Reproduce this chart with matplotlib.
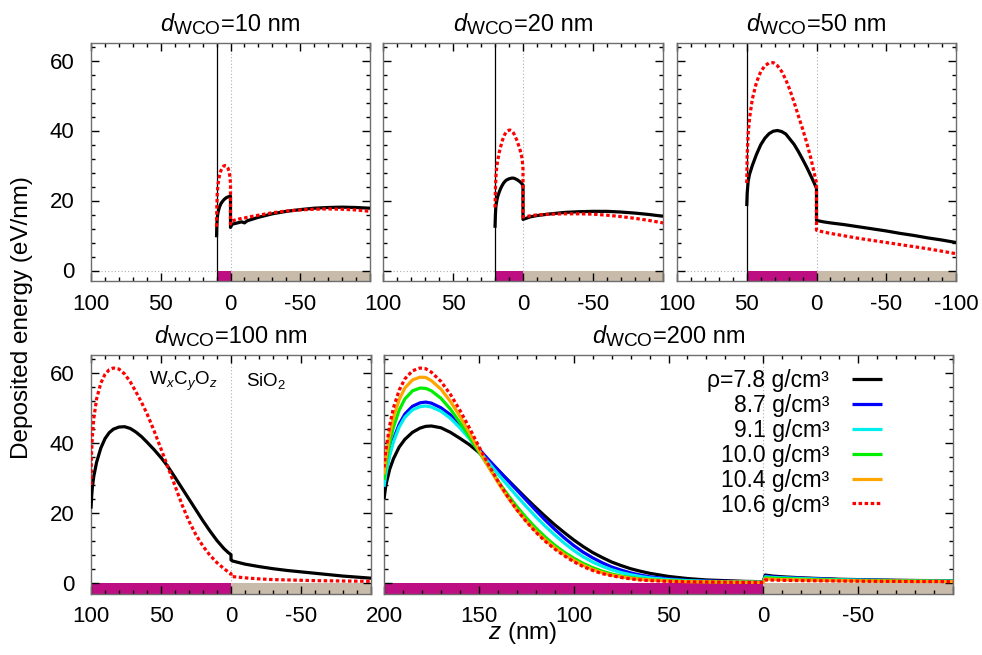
import matplotlib
matplotlib.use('Agg')
import matplotlib.pyplot as plt
from matplotlib.ticker import MultipleLocator
from matplotlib.offsetbox import TextArea, HPacker, AnchoredOffsetbox

plt.rcParams['font.family'] = ['Liberation Sans', 'DejaVu Sans']
plt.rcParams['mathtext.fontset'] = 'custom'
plt.rcParams['mathtext.rm'] = 'Liberation Sans'
plt.rcParams['mathtext.it'] = 'Liberation Sans:italic'
plt.rcParams['mathtext.bf'] = 'Liberation Sans:bold'

# ---- deposited energy profiles, z in nm, energy in eV/nm ----
densities = ['7.8', '8.7', '9.1', '10.0', '10.4', '10.6']
colors = ['#000000', '#0000ff', '#00eeee', '#00ee00', '#ffa500', '#ff0000']

# d_WCO = 10 nm
z10_wco = [10, 9.8, 9.5, 9, 8, 7, 6, 5, 4, 3, 2, 1, 0.5, 0]
e10_wco_78 = [9.5, 13, 15, 16.5, 18, 19, 19.6, 20.1, 20.5, 20.8, 21, 21.1, 21.2, 21.2]
e10_wco_106 = [12.5, 18, 22, 24.5, 27, 28.4, 29.3, 29.8, 30, 29.9, 29.4, 28.3, 27, 25]
z10_sio2 = [0, -1, -5, -8, -10, -12, -20, -30, -40, -50, -60, -70, -80, -90, -100]
e10_sio2_78 = [12.3, 13.2, 13.6, 13.9, 13.6, 14.2, 15.2, 16.2, 16.9, 17.4, 17.8, 18.0, 18.1, 18.0, 17.8]
e10_sio2_106 = [13.3, 14.2, 14.6, 14.9, 15.0, 15.2, 15.8, 16.5, 17.0, 17.3, 17.5, 17.6, 17.5, 17.3, 16.9]

# d_WCO = 20 nm
z20_wco = [20, 19.7, 19.5, 19.3, 19, 18.5, 18, 17, 16, 15, 14, 13, 12, 11, 10, 9, 8, 7, 6, 5, 4, 3, 2, 1.5, 1, 0.5, 0]
e20_wco_78 = [12.2, 16, 17.5, 18.5, 19.3, 20.4, 21.2, 22.4, 23.4, 24.2, 24.9, 25.4, 25.8, 26.0, 26.2, 26.3, 26.4,
              26.4, 26.3, 26.1, 25.9, 25.6, 25.3, 25.1, 24.9, 24.6, 24.4]
e20_wco_106 = [18, 23, 25, 27, 28.5, 30.3, 31.5, 33.7, 35.3, 36.8, 38.0, 38.9, 39.5, 39.9, 40.1, 40.1, 39.9,
               39.4, 38.7, 37.8, 36.8, 35.6, 34.3, 33.5, 32.7, 31.5, 29]
z20_sio2 = [0, -5, -10, -20, -30, -40, -50, -60, -70, -80, -90, -100]
e20_sio2_78 = [14.6, 15.3, 15.7, 16.2, 16.6, 16.8, 16.9, 16.9, 16.7, 16.4, 16.0, 15.5]
e20_sio2_106 = [15.3, 15.6, 15.9, 16.1, 16.2, 16.2, 16.1, 15.8, 15.4, 14.9, 14.3, 13.6]

# d_WCO = 50 nm
z50_wco = [50, 49.7, 49, 48, 46, 43, 40, 37, 34, 31, 28, 25, 22, 19, 16, 13, 10, 7, 4, 2, 0]
e50_wco_78 = [18.4, 22, 25.5, 27.5, 30, 33.2, 35.9, 37.8, 39.1, 39.8, 40, 39.7, 39, 37.5, 36, 34, 31.8,
              29.5, 27, 25.3, 23.5]
e50_wco_106 = [25, 33, 39, 43.5, 49, 53.8, 56.8, 58.5, 59.3, 59.4, 58.5, 56.9, 54.5, 51.5, 48, 44.2, 40.5,
               36.5, 32, 28.5, 25]
z50_sio2 = [0, -5, -10, -20, -30, -40, -50, -60, -70, -80, -90, -100]
e50_sio2_78 = [14.3, 13.9, 13.6, 13.1, 12.5, 11.9, 11.3, 10.6, 10.0, 9.3, 8.7, 8.0]
e50_sio2_106 = [11.5, 11.0, 10.6, 9.9, 9.2, 8.6, 8.0, 7.4, 6.8, 6.2, 5.5, 4.8]

# d_WCO = 100 nm
z100_wco = [100, 99.7, 99.5, 99, 98, 96, 93, 90, 87, 84, 80, 76, 72, 68, 64, 60, 55, 50, 48, 45, 40,
            35, 30, 25, 20, 15, 10, 5, 2, 0]
e100_wco_78 = [21.3, 23.5, 25, 27.5, 30.5, 34.5, 38.5, 41.2, 42.9, 43.9, 44.5, 44.6, 44.1, 43.1, 41.8,
               40.2, 38.1, 35.8, 34.8, 33.2, 30.2, 27.1, 24.0, 20.9, 17.8, 14.9, 12.2, 9.9, 8.8, 8.2]
e100_wco_106 = [28, 35, 38, 42, 47, 52.5, 57, 59.5, 60.8, 61.3, 61.0, 59.6, 57.4, 54.6, 51.6, 48.3, 43.5,
                38.3, 36.2, 33.0, 27.8, 22.4, 17.7, 13.8, 10.6, 8.0, 5.9, 4.2, 3.3, 2.8]
z100_sio2 = [0, -1, -5, -10, -20, -30, -40, -50, -60, -70, -80, -90, -100]
e100_sio2_78 = [6.7, 6.4, 6.0, 5.5, 4.8, 4.2, 3.7, 3.3, 2.9, 2.5, 2.1, 1.8, 1.5]
e100_sio2_106 = [2.0, 1.95, 1.8, 1.6, 1.3, 1.1, 1.0, 0.9, 0.8, 0.75, 0.7, 0.65, 0.6]

# d_WCO = 200 nm, all six densities
z200_wco = [200, 199, 197, 195, 192, 189, 185, 181, 178, 175, 170, 165, 160, 155, 150, 145, 140, 135,
            130, 125, 120, 115, 110, 105, 100, 95, 90, 85, 80, 75, 70, 65, 60, 50, 40, 30, 20, 10, 0]
e200_wco_78 = [24, 28, 32.5, 35.5, 38.8, 41, 43, 44.2, 44.7, 44.8, 44.3, 43, 41.3, 39.5, 37.3, 34.9,
               32.3, 29.6, 26.9, 24.2, 21.6, 19.1, 16.7, 14.5, 12.4, 10.5, 8.8, 7.4, 6.1, 5.1, 4.2, 3.5,
               2.9, 2.0, 1.4, 1.0, 0.8, 0.6, 0.5]
e200_wco_87 = [27.5, 31.5, 37, 41, 45.3, 48.2, 50.4, 51.4, 51.6, 51.3, 50, 48, 45.3, 42.0, 38.3, 35.3,
               32.4, 29.5, 26.6, 23.7, 20.8, 18.0, 15.4, 13.0, 10.8, 8.9, 7.3, 5.9, 4.7, 3.8, 3.0, 2.4,
               1.9, 1.3, 0.9, 0.7, 0.6, 0.5, 0.5]
e200_wco_91 = [27.5, 31.3, 36.5, 40.3, 44.5, 47.3, 49.4, 50.3, 50.5, 50.2, 49, 47, 44.3, 41.2, 37.8,
               34.5, 31.2, 28.0, 24.9, 21.9, 19.0, 16.3, 13.8, 11.5, 9.4, 7.6, 6.1, 4.9, 3.9, 3.1, 2.5,
               2.0, 1.6, 1.1, 0.8, 0.6, 0.5, 0.45, 0.4]
e200_wco_100 = [29.5, 34, 40, 44.5, 49.3, 52.5, 54.8, 55.6, 55.5, 54.8, 52.7, 49.6, 45.8, 41.7, 37.5,
                33.3, 29.2, 25.4, 21.9, 18.7, 15.8, 13.2, 10.9, 8.9, 7.2, 5.7, 4.5, 3.5, 2.7, 2.1, 1.7,
                1.3, 1.1, 0.8, 0.6, 0.5, 0.4, 0.4, 0.35]
e200_wco_104 = [31, 35.8, 42.5, 47.3, 52.3, 55.6, 57.9, 58.7, 58.6, 57.7, 55.3, 51.8, 47.6, 42.9, 38.0,
                33.3, 28.8, 24.7, 21.0, 17.8, 14.9, 12.4, 10.2, 8.3, 6.6, 5.2, 4.0, 3.1, 2.4, 1.9, 1.5,
                1.2, 1.0, 0.7, 0.5, 0.45, 0.4, 0.35, 0.3]
e200_wco_106 = [33, 38, 45, 50, 55, 58.2, 60.5, 61.3, 61.1, 60.1, 57.5, 53.8, 49.3, 44.3, 39.0, 33.9,
                29.2, 24.9, 21.0, 17.6, 14.6, 12.0, 9.8, 7.9, 6.2, 4.8, 3.7, 2.8, 2.2, 1.7, 1.3, 1.0,
                0.8, 0.6, 0.45, 0.4, 0.35, 0.3, 0.3]
z200_sio2 = [0, -1, -5, -10, -20, -30, -40, -50, -60, -70, -80, -90, -100]
e200_sio2_78 = [0.5, 2.4, 2.1, 1.9, 1.6, 1.4, 1.2, 1.1, 1.0, 0.9, 0.85, 0.8, 0.75]
e200_sio2_87 = [0.5, 2.1, 1.9, 1.7, 1.5, 1.3, 1.1, 1.0, 0.9, 0.85, 0.8, 0.75, 0.7]
e200_sio2_91 = [0.4, 1.9, 1.7, 1.6, 1.4, 1.2, 1.05, 0.95, 0.9, 0.8, 0.75, 0.7, 0.7]
e200_sio2_100 = [0.35, 1.6, 1.5, 1.4, 1.2, 1.05, 0.95, 0.85, 0.8, 0.75, 0.7, 0.65, 0.6]
e200_sio2_104 = [0.3, 1.3, 1.2, 1.1, 1.0, 0.9, 0.8, 0.75, 0.7, 0.65, 0.6, 0.6, 0.55]
e200_sio2_106 = [0.3, 1.0, 0.95, 0.9, 0.8, 0.75, 0.7, 0.65, 0.6, 0.6, 0.55, 0.55, 0.5]

WCO_COLOR = '#bd0f81'
SIO2_COLOR = '#c9bbaa'
RED_DOTS = (0, (1.1, 0.8))
YMIN, YMAX = -3, 65
TICK_FS = 16
LABEL_FS = 17.5


def style_axes(ax, xlim, major, labels, show_y):
    ax.set_xlim(*xlim)
    ax.set_ylim(YMIN, YMAX)
    ax.set_xticks(major)
    ax.set_xticklabels(labels)
    ax.xaxis.set_minor_locator(MultipleLocator(10))
    ax.set_yticks([0, 20, 40, 60])
    ax.yaxis.set_minor_locator(MultipleLocator(4))
    if not show_y:
        ax.set_yticklabels([])
    ax.tick_params(which='both', direction='in', top=True, right=True, color='black', width=1.0)
    ax.tick_params(which='major', length=6, labelsize=TICK_FS)
    ax.tick_params(axis='x', which='major', pad=9)
    ax.tick_params(axis='y', which='major', pad=12)
    ax.tick_params(which='minor', length=3.2)
    for sp in ax.spines.values():
        sp.set_color('#6e6e6e')
        sp.set_linewidth(1.0)


def panel_title(ax, d):
    # d_WCO=... nm with a fairly large subscript
    parts = HPacker(children=[
        TextArea('d', textprops=dict(fontsize=17, style='italic')),
        TextArea(r'${}_{\mathrm{WCO}}$', textprops=dict(fontsize=19.5)),
        TextArea('=%d nm' % d, textprops=dict(fontsize=17)),
    ], align='baseline', pad=0, sep=0)
    box = AnchoredOffsetbox(loc='lower center', child=parts, pad=0, borderpad=0, frameon=False,
                            bbox_to_anchor=(0.5, 1.025), bbox_transform=ax.transAxes)
    ax.add_artist(box)


def draw_layers(ax, d, zmax):
    # substrate stack along the bottom: deposit (WCO) and SiO2
    ax.fill_between([d, 0], YMIN, 0, color=WCO_COLOR, lw=0, zorder=1)
    ax.fill_between([0, -100], YMIN, 0, color=SIO2_COLOR, lw=0, zorder=1)
    ax.axhline(0, color='#b0b0b0', lw=0.8, ls=(0, (1, 2)), zorder=0.5)
    ax.axvline(0, color='#b0b0b0', lw=0.8, ls=(0, (1, 2)), zorder=0.5)
    if d < zmax:
        ax.axvline(d, color='black', lw=0.9, zorder=2)
    panel_title(ax, d)


def plot_profile(ax, z_wco, e_wco, z_sio2, e_sio2, color, dotted=False, label=None):
    z = list(z_wco) + list(z_sio2)
    e = list(e_wco) + list(e_sio2)
    ls = RED_DOTS if dotted else '-'
    ax.plot(z, e, color=color, lw=2.3, ls=ls, zorder=3, label=label,
            solid_capstyle='butt', dash_capstyle='butt')


fig = plt.figure(figsize=(9.82, 6.55), dpi=100)

top_h = 238 / 655
bot_h = 239 / 655
ax1 = fig.add_axes([91 / 982, 1 - 281 / 655, 279 / 982, top_h])
ax2 = fig.add_axes([383 / 982, 1 - 281 / 655, 280 / 982, top_h])
ax3 = fig.add_axes([677 / 982, 1 - 281 / 655, 279 / 982, top_h])
ax4 = fig.add_axes([91 / 982, 1 - 594 / 655, 280 / 982, bot_h])
ax5 = fig.add_axes([384 / 982, 1 - 594 / 655, 569 / 982, bot_h])

short_ticks = [100, 50, 0, -50, -100]
short_labels_cut = ['100', '50', '0', '-50', '']
short_labels_full = ['100', '50', '0', '-50', '-100']

panel_sets = [
    (ax1, 10, z10_wco, e10_wco_78, e10_wco_106, z10_sio2, e10_sio2_78, e10_sio2_106, short_labels_cut),
    (ax2, 20, z20_wco, e20_wco_78, e20_wco_106, z20_sio2, e20_sio2_78, e20_sio2_106, short_labels_cut),
    (ax3, 50, z50_wco, e50_wco_78, e50_wco_106, z50_sio2, e50_sio2_78, e50_sio2_106, short_labels_full),
    (ax4, 100, z100_wco, e100_wco_78, e100_wco_106, z100_sio2, e100_sio2_78, e100_sio2_106, short_labels_cut),
]
for ax, d, zw, ew78, ew106, zs, es78, es106, xl in panel_sets:
    draw_layers(ax, d, 100)
    plot_profile(ax, zw, ew78, zs, es78, colors[0])
    plot_profile(ax, zw, ew106, zs, es106, colors[5], dotted=True)
    style_axes(ax, (100, -100), short_ticks, xl, show_y=ax in (ax1, ax4))

ax4.text(34, 57.5, r'W$_x$C$_y$O$_z$', fontsize=13.5, ha='center', va='center')
ax4.text(-25, 57.5, r'SiO$_2$', fontsize=13.5, ha='center', va='center')

# thick deposit: full density series
draw_layers(ax5, 200, 200)
e200_wco = [e200_wco_78, e200_wco_87, e200_wco_91, e200_wco_100, e200_wco_104, e200_wco_106]
e200_sio2 = [e200_sio2_78, e200_sio2_87, e200_sio2_91, e200_sio2_100, e200_sio2_104, e200_sio2_106]
for i, (rho, c) in enumerate(zip(densities, colors)):
    lab = ('ρ=' if i == 0 else '') + rho + ' g/cm³'
    plot_profile(ax5, z200_wco, e200_wco[i], z200_sio2, e200_sio2[i], c, dotted=(i == 5), label=lab)
style_axes(ax5, (200, -100), [200, 150, 100, 50, 0, -50, -100],
           ['200', '150', '100', '50', '0', '-50', ''], show_y=False)

ax5.legend(loc='upper right', bbox_to_anchor=(0.875, 0.94), frameon=False, markerfirst=False,
           handlelength=1.3, handletextpad=1.0, labelspacing=0.08, fontsize=16.5,
           borderaxespad=0, borderpad=0)

fig.text(0.022, 0.5145, 'Deposited energy (eV/nm)', rotation=90, ha='center', va='center',
         fontsize=LABEL_FS)
fig.text(0.532, 0.033, r'$z$ (nm)', ha='center', va='center', fontsize=LABEL_FS)

fig.savefig('out.png', dpi=100)
